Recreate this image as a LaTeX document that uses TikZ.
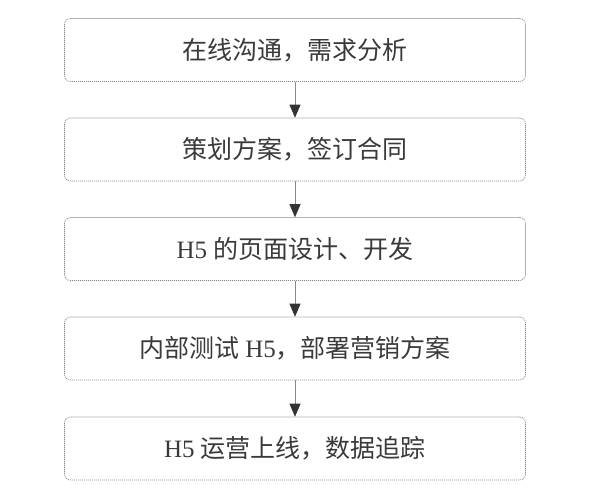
\documentclass[tikz,border=0pt]{standalone}
\usepackage{fontspec}
\setmainfont{Liberation Serif}
\newfontfamily\cjk{Noto Sans CJK SC}
\usetikzlibrary{arrows.meta}
\definecolor{txtc}{HTML}{3A3A3A}
\definecolor{linec}{HTML}{8A8A8A}
\tikzset{
  stepbox/.style={draw=linec, line width=0.6pt, dash pattern=on 1.2pt off 0.8pt,
    rounded corners=6pt, minimum width=461pt, minimum height=63pt,
    inner sep=0pt, text=txtc, font=\fontsize{25}{29}\selectfont},
  flow/.style={draw=linec, line width=0.7pt,
    -{Triangle[length=13pt,width=11pt,color=black!80]}}
}
\begin{document}
\begin{tikzpicture}[x=1pt,y=-1pt]
\useasboundingbox (0,0) rectangle (596,499);
\node[stepbox] (s1) at (295,50) {\cjk 在线沟通，需求分析};
\node[stepbox] (s2) at (295,149.5) {\cjk 策划方案，签订合同};
\node[stepbox] (s3) at (295,249) {H5 {\cjk 的页面设计、开发}};
\node[stepbox] (s4) at (295,348.5) {{\cjk 内部测试} H5{\cjk ，部署营销方案}};
\node[stepbox] (s5) at (295,448.5) {H5 {\cjk 运营上线，数据追踪}};
\draw[flow] (s1) -- (s2);
\draw[flow] (s2) -- (s3);
\draw[flow] (s3) -- (s4);
\draw[flow] (s4) -- (s5);
\end{tikzpicture}
\end{document}
